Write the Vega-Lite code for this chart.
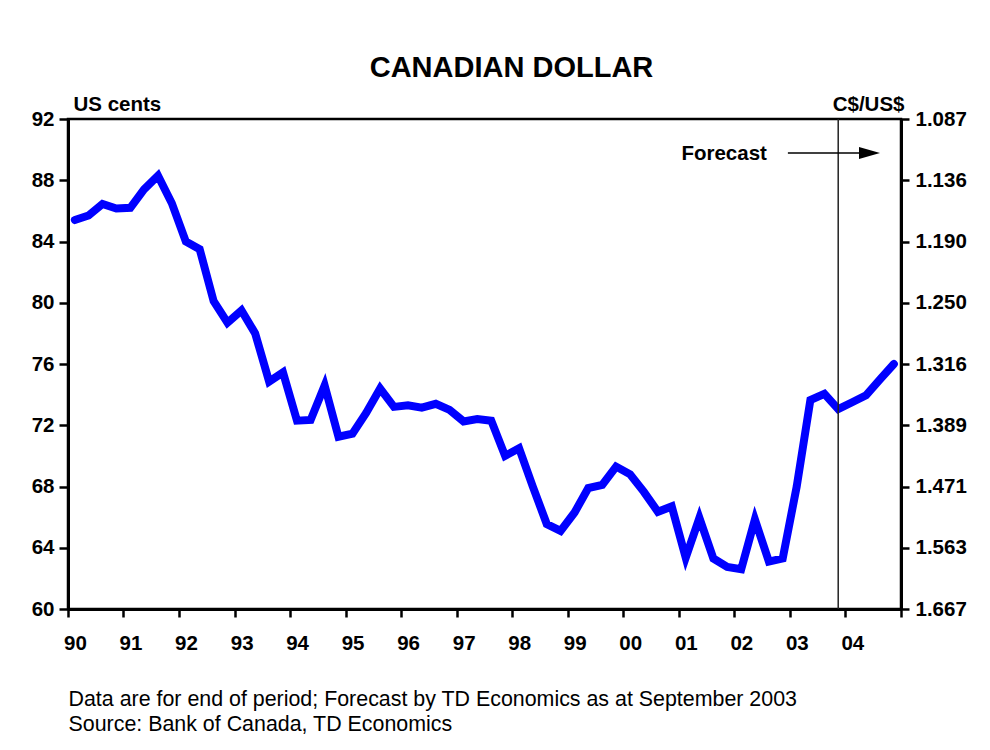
{
  "$schema": "https://vega.github.io/schema/vega-lite/v6.json",
  "width": 833,
  "height": 490,
  "autosize": {"type": "none"},
  "padding": {"left": 68, "top": 119, "right": 89, "bottom": 141},
  "background": "white",
  "title": {"text": "CANADIAN DOLLAR", "font": "Liberation Sans", "fontSize": 29, "fontWeight": "bold", "color": "black", "anchor": "middle", "frame": "group", "dx": 27, "offset": 11},
  "datasets": {
    "fx": [
      {"date": "1990-02-15", "usc": 85.4},
      {"date": "1990-05-16", "usc": 85.7},
      {"date": "1990-08-16", "usc": 86.45},
      {"date": "1990-11-15", "usc": 86.15},
      {"date": "1991-02-15", "usc": 86.2},
      {"date": "1991-05-16", "usc": 87.4},
      {"date": "1991-08-16", "usc": 88.3},
      {"date": "1991-11-15", "usc": 86.5},
      {"date": "1992-02-15", "usc": 84.0},
      {"date": "1992-05-16", "usc": 83.5},
      {"date": "1992-08-16", "usc": 80.1},
      {"date": "1992-11-15", "usc": 78.7},
      {"date": "1993-02-15", "usc": 79.5},
      {"date": "1993-05-16", "usc": 78.0},
      {"date": "1993-08-16", "usc": 74.85},
      {"date": "1993-11-15", "usc": 75.45},
      {"date": "1994-02-15", "usc": 72.3},
      {"date": "1994-05-16", "usc": 72.35},
      {"date": "1994-08-16", "usc": 74.6},
      {"date": "1994-11-15", "usc": 71.25},
      {"date": "1995-02-15", "usc": 71.45},
      {"date": "1995-05-16", "usc": 72.8},
      {"date": "1995-08-16", "usc": 74.4},
      {"date": "1995-11-15", "usc": 73.2},
      {"date": "1996-02-15", "usc": 73.3},
      {"date": "1996-05-16", "usc": 73.15},
      {"date": "1996-08-16", "usc": 73.4},
      {"date": "1996-11-15", "usc": 73.0},
      {"date": "1997-02-15", "usc": 72.25},
      {"date": "1997-05-16", "usc": 72.4},
      {"date": "1997-08-16", "usc": 72.3},
      {"date": "1997-11-15", "usc": 70.0},
      {"date": "1998-02-15", "usc": 70.5},
      {"date": "1998-05-16", "usc": 68.0},
      {"date": "1998-08-16", "usc": 65.55},
      {"date": "1998-11-15", "usc": 65.1},
      {"date": "1999-02-15", "usc": 66.3},
      {"date": "1999-05-16", "usc": 67.9},
      {"date": "1999-08-16", "usc": 68.1},
      {"date": "1999-11-15", "usc": 69.3},
      {"date": "2000-02-15", "usc": 68.8},
      {"date": "2000-05-16", "usc": 67.65},
      {"date": "2000-08-16", "usc": 66.35},
      {"date": "2000-11-15", "usc": 66.7},
      {"date": "2001-02-15", "usc": 63.35},
      {"date": "2001-05-16", "usc": 65.95},
      {"date": "2001-08-16", "usc": 63.3},
      {"date": "2001-11-15", "usc": 62.75},
      {"date": "2002-02-15", "usc": 62.6},
      {"date": "2002-05-16", "usc": 65.85},
      {"date": "2002-08-16", "usc": 63.1},
      {"date": "2002-11-15", "usc": 63.3},
      {"date": "2003-02-15", "usc": 68.0},
      {"date": "2003-05-16", "usc": 73.65},
      {"date": "2003-08-16", "usc": 74.05},
      {"date": "2003-11-15", "usc": 73.05},
      {"date": "2004-02-15", "usc": 73.5},
      {"date": "2004-05-16", "usc": 73.95},
      {"date": "2004-08-16", "usc": 75.0},
      {"date": "2004-11-15", "usc": 76.0}
    ],
    "forecastStart": [{"date": "2003-11-15"}],
    "arrow": [{"start": "2002-12-19", "end": "2004-05-10", "head": "2004-06-08", "level": 89.78, "label": "Forecast"}]
  },
  "config": {
    "font": "Liberation Sans",
    "view": {"stroke": "black", "strokeWidth": 2.5},
    "axis": {
      "grid": false,
      "domainColor": "black",
      "domainWidth": 3,
      "tickColor": "black",
      "tickWidth": 2.5,
      "labelFont": "Liberation Sans",
      "labelFontSize": 20.5,
      "labelFontWeight": "bold",
      "labelColor": "black",
      "titleFont": "Liberation Sans",
      "titleColor": "black"
    }
  },
  "layer": [
    {
      "data": {"name": "fx"},
      "mark": {"type": "line", "color": "#0000ff", "strokeWidth": 8, "strokeCap": "round"},
      "encoding": {
        "x": {
          "field": "date",
          "type": "temporal",
          "scale": {"type": "utc", "domain": [{"year": 1990, "month": 1, "date": 1, "utc": true}, {"year": 2005, "month": 1, "date": 1, "utc": true}]},
          "axis": {
            "tickCount": {"interval": "year", "step": 1},
            "labelExpr": "utcyear(datum.value) < 2005 ? utcFormat(datum.value, '%y') : ''",
            "labelFlush": false,
            "labelOverlap": false,
            "labelOffset": 7,
            "labelPadding": 16,
            "tickSize": 8,
            "title": ["Data are for end of period; Forecast by TD Economics as at September 2003", "Source: Bank of Canada, TD Economics"],
            "titleAlign": "left",
            "titleAnchor": "start",
            "titleX": 0,
            "titleY": 96,
            "titleBaseline": "alphabetic",
            "titleFontSize": 21.4,
            "titleFontWeight": "normal",
            "titleLineHeight": 25
          }
        },
        "y": {
          "field": "usc",
          "type": "quantitative",
          "scale": {"domain": [60, 92], "nice": false, "zero": false},
          "axis": {
            "orient": "left",
            "values": [60, 64, 68, 72, 76, 80, 84, 88, 92],
            "tickSize": 9,
            "labelPadding": 5,
            "title": "US cents",
            "titleAngle": 0,
            "titleAlign": "left",
            "titleX": 5,
            "titleY": -9,
            "titleBaseline": "alphabetic",
            "titleFontSize": 20.5,
            "titleFontWeight": "bold"
          }
        }
      }
    },
    {
      "data": {"name": "fx"},
      "mark": {"type": "line", "strokeOpacity": 0},
      "encoding": {
        "x": {"field": "date", "type": "temporal", "axis": null},
        "y": {
          "field": "usc",
          "type": "quantitative",
          "axis": {
            "orient": "right",
            "values": [60, 64, 68, 72, 76, 80, 84, 88, 92],
            "labelExpr": "format(100 / datum.value, '.3f')",
            "tickSize": 8,
            "labelPadding": 6,
            "title": "C$/US$",
            "titleAngle": 0,
            "titleAlign": "right",
            "titleX": 3,
            "titleY": -9,
            "titleBaseline": "alphabetic",
            "titleFontSize": 20.5,
            "titleFontWeight": "bold"
          }
        }
      }
    },
    {
      "data": {"name": "forecastStart"},
      "mark": {"type": "rule", "color": "#222222", "strokeWidth": 1.5},
      "encoding": {
        "x": {"field": "date", "type": "temporal", "axis": null}
      }
    },
    {
      "data": {"name": "arrow"},
      "mark": {"type": "rule", "color": "black", "strokeWidth": 1.5},
      "encoding": {
        "x": {"field": "start", "type": "temporal", "axis": null},
        "x2": {"field": "end"},
        "y": {"field": "level", "type": "quantitative", "axis": null}
      }
    },
    {
      "data": {"name": "arrow"},
      "mark": {"type": "point", "shape": "M-1,-0.571L1,0L-1,0.571Z", "size": 441, "filled": true, "color": "black", "opacity": 1},
      "encoding": {
        "x": {"field": "head", "type": "temporal", "axis": null},
        "y": {"field": "level", "type": "quantitative", "axis": null}
      }
    },
    {
      "data": {"name": "arrow"},
      "mark": {"type": "text", "align": "right", "baseline": "middle", "dx": -21, "dy": 1, "fontSize": 20.5, "fontWeight": "bold", "color": "black"},
      "encoding": {
        "x": {"field": "start", "type": "temporal", "axis": null},
        "y": {"field": "level", "type": "quantitative", "axis": null},
        "text": {"field": "label"}
      }
    }
  ],
  "resolve": {"axis": {"x": "independent", "y": "independent"}}
}
